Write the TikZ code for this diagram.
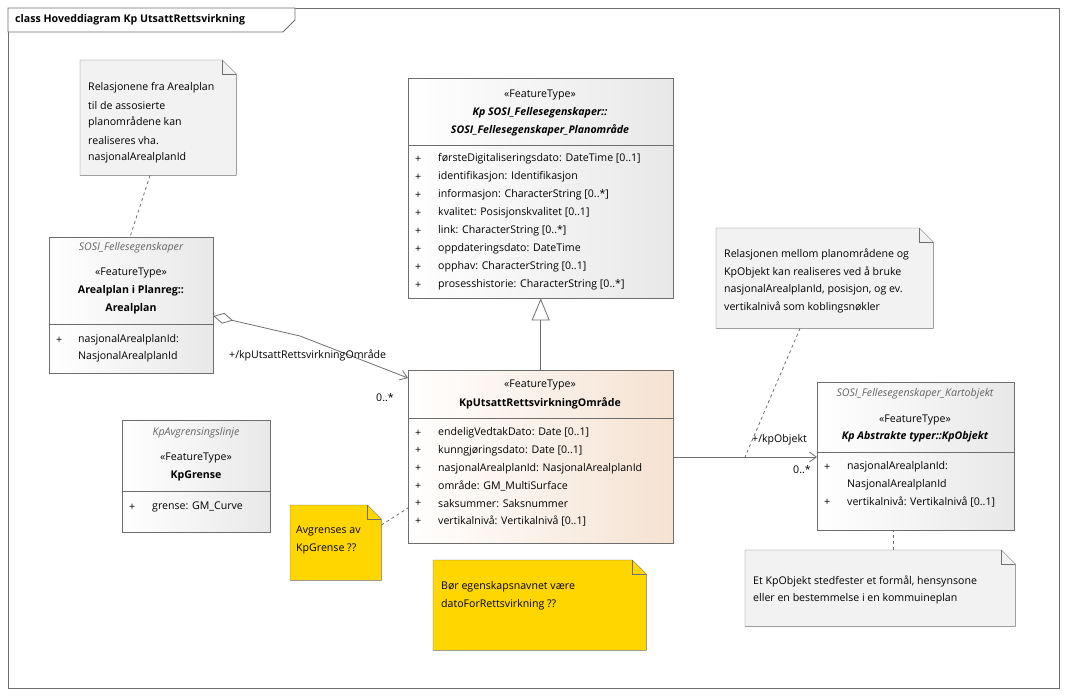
\documentclass[tikz,border=0pt]{standalone}
\usepackage{fontspec}
\setmainfont{Open Sans}
\usetikzlibrary{calc,positioning,arrows.meta}
\definecolor{umlline}{RGB}{110,110,110}
\definecolor{umlgray}{RGB}{232,232,232}
\definecolor{umlpeach}{RGB}{245,226,210}
\definecolor{noteyellow}{RGB}{255,214,0}
\definecolor{headgray}{RGB}{100,100,100}
\tikzset{
  % For class boxes.
  umlclass/.style={
    draw=umlline,
    anchor=north west,
    inner sep=0pt,
    left color=white,
    right color=umlgray},
%
  % For the class in focus.
  focusclass/.style={
    umlclass,
    right color=umlpeach},
%
  % For notes; the outline is drawn by \notepath.
  notebox/.style={
    anchor=north west,
    inner sep=0pt},
%
  % For text lines inside boxes.
  txt/.style={
    anchor=west,
    inner sep=0pt,
    font=\fontsize{10.6}{12}\selectfont},
  ctxt/.style={
    txt,
    anchor=center},
  stereo/.style={ctxt},
  cname/.style={ctxt, font=\fontsize{10.6}{12}\selectfont\bfseries},
  iname/.style={ctxt, font=\fontsize{10.6}{12}\selectfont\bfseries\itshape},
  pkg/.style={ctxt, text=headgray, font=\fontsize{10.6}{12}\selectfont\itshape},
%
  % For connectors.
  link/.style={
    draw=umlline,
    line width=0.8pt},
  notelink/.style={
    link,
    dashed},
  navigable/.style={
    link,
    -{Straight Barb[length=7pt,width=10pt]}}
}
% Folded-corner outline of a note node.
\newcommand*{\notepath}[2]{%
  \draw[draw=umlline, fill=#2]
    (#1.north west) -- ([xshift=-14]#1.north east) -- ([yshift=-14]#1.north east)
    -- (#1.south east) -- (#1.south west) -- cycle;
  \draw[draw=umlline]
    ([xshift=-14]#1.north east) -- ([xshift=-14,yshift=-14]#1.north east)
    -- ([yshift=-14]#1.north east);}

\begin{document}
\begin{tikzpicture}[x=1pt, y=-1pt]
  \useasboundingbox (0,0) rectangle (1067,696);
  % Frame with title tab.
  \draw[umlline, line width=0.8pt] (8,8) rectangle (1059,688);
  \draw[umlline, line width=0.8pt, fill=white] (8,8) -- (295,8) -- (295,20) -- (283,32) -- (8,32) -- cycle;
  \node[txt, font=\fontsize{10.6}{12}\selectfont\bfseries] (title) at (15,20) {class Hoveddiagram Kp UtsattRettsvirkning};

  % Notes.
  \node[notebox, minimum width=156, minimum height=115] (noteA) at (80,60) {};
  \notepath{noteA}{black!5}
  \foreach \t [count=\i] in {Relasjonene fra Arealplan, til de assosierte, planområdene kan, realiseres vha., nasjonalArealplanId}
    \node[txt] at (88,{70+17.6*\i}) {\t};

  \node[notebox, minimum width=217, minimum height=100] (noteB) at (716,228) {};
  \notepath{noteB}{black!5}
  \foreach \t [count=\i] in {Relasjonen mellom planområdene og, KpObjekt kan realiseres ved å bruke, {nasjonalArealplanId, posisjon, og ev.}, vertikalnivå som koblingsnøkler}
    \node[txt] at (724,{237+17.6*\i}) {\t};

  \node[notebox, minimum width=270, minimum height=76] (noteC) at (745,550) {};
  \notepath{noteC}{black!5}
  \node[txt] at (753,581) {Et KpObjekt stedfester et formål, hensynsone};
  \node[txt] at (753,599) {eller en bestemmelse i en kommuineplan};

  \node[notebox, minimum width=91, minimum height=75] (noteD) at (290,505) {};
  \notepath{noteD}{noteyellow}
  \node[txt] at (296,531) {Avgrenses av};
  \node[txt] at (296,549) {KpGrense ??};

  \node[notebox, minimum width=213, minimum height=90] (noteE) at (433,560) {};
  \notepath{noteE}{noteyellow}
  \node[txt] at (441,587) {Bør egenskapsnavnet være};
  \node[txt] at (441,605) {datoForRettsvirkning ??};

  % Classes.
  \node[umlclass, minimum width=164, minimum height=136] (arealplan) at (49,237) {};
  \draw[umlline] (49,324) -- (213,324);
  \node[pkg] at (131,248) {SOSI\_Fellesegenskaper};
  \node[stereo] at (131,273) {«FeatureType»};
  \node[cname] at (131,291) {Arealplan i Planreg::};
  \node[cname] at (131,309) {Arealplan};
  \node[txt] at (56,340) {+};
  \node[txt] at (78,340) {nasjonalArealplanId:};
  \node[txt] at (78,357) {NasjonalArealplanId};

  \node[umlclass, minimum width=265, minimum height=220] (planomr) at (408,78) {};
  \draw[umlline] (408,145) -- (673,145);
  \node[stereo] at (540,95) {«FeatureType»};
  \node[iname] at (540,113) {Kp SOSI\_Fellesegenskaper::};
  \node[iname] at (540,130) {SOSI\_Fellesegenskaper\_Planområde};
  \foreach \t [count=\i] in {{førsteDigitaliseringsdato: DateTime [0..1]}, {identifikasjon: Identifikasjon}, {informasjon: CharacterString [0..*]}, {kvalitet: Posisjonskvalitet [0..1]}, {link: CharacterString [0..*]}, {oppdateringsdato: DateTime}, {opphav: CharacterString [0..1]}, {prosesshistorie: CharacterString [0..*]}}
    {\node[txt] at (415,{141+18*\i}) {+};
     \node[txt] at (438,{141+18*\i}) {\t};}

  \node[focusclass, minimum width=265, minimum height=173] (utsatt) at (408,370) {};
  \draw[umlline] (408,418) -- (673,418);
  \node[stereo] at (540,385) {«FeatureType»};
  \node[cname] at (540,403) {KpUtsattRettsvirkningOmråde};
  \foreach \t [count=\i] in {{endeligVedtakDato: Date [0..1]}, {kunngjøringsdato: Date [0..1]}, {nasjonalArealplanId: NasjonalArealplanId}, {område: GM\_MultiSurface}, {saksummer: Saksnummer}, {vertikalnivå: Vertikalnivå [0..1]}}
    {\node[txt] at (415,{415.5+17.6*\i}) {+};
     \node[txt] at (438,{415.5+17.6*\i}) {\t};}

  \node[umlclass, minimum width=197, minimum height=148] (kpobjekt) at (817,382) {};
  \draw[umlline] (817,452) -- (1014,452);
  \node[pkg] at (915,394) {SOSI\_Fellesegenskaper\_Kartobjekt};
  \node[stereo] at (915,420) {«FeatureType»};
  \node[iname] at (915,437) {Kp Abstrakte typer::KpObjekt};
  \node[txt] at (824,467) {+};
  \node[txt] at (847,467) {nasjonalArealplanId:};
  \node[txt] at (847,485) {NasjonalArealplanId};
  \node[txt] at (824,502) {+};
  \node[txt] at (847,502) {vertikalnivå: Vertikalnivå [0..1]};

  \node[umlclass, minimum width=148, minimum height=112] (kpgrense) at (122,420) {};
  \draw[umlline] (122,491) -- (270,491);
  \node[pkg] at (196,433) {KpAvgrensingslinje};
  \node[stereo] at (196,458) {«FeatureType»};
  \node[cname] at (196,476) {KpGrense};
  \node[txt] at (129,507) {+};
  \node[txt] at (152,507) {grense: GM\_Curve};

  % Connectors.
  \draw[link, -{Triangle[open,length=22pt,width=18pt]}] (utsatt.north) -- (planomr.south);
  \draw[link, {Diamond[open,length=20pt,width=11pt]}-{Straight Barb[length=7pt,width=10pt]}]
    (arealplan.east |- 0,316) -- (300,336) -- (utsatt.north west |- 0,378);
  \node[txt] at (229,355) {+/kpUtsattRettsvirkningOmråde};
  \node[txt] at (376,398) {0..*};
  \draw[navigable] (utsatt.east |- 0,457) -- (kpobjekt.west |- 0,457);
  \coordinate (assocMid) at (745,457);
  \node[txt] at (752,440) {+/kpObjekt};
  \node[txt] at (793,470) {0..*};
  \draw[notelink] (noteA.south -| 150,0) -- (arealplan.north -| 130,0);
  \draw[notelink] (noteB.south -| 800,0) -- (assocMid);
  \draw[notelink] (noteC.north -| 893,0) -- (kpobjekt.south -| 893,0);
  \draw[notelink] (noteD.east |- 0,525) -- (utsatt.west |- 0,508);
\end{tikzpicture}
\end{document}
